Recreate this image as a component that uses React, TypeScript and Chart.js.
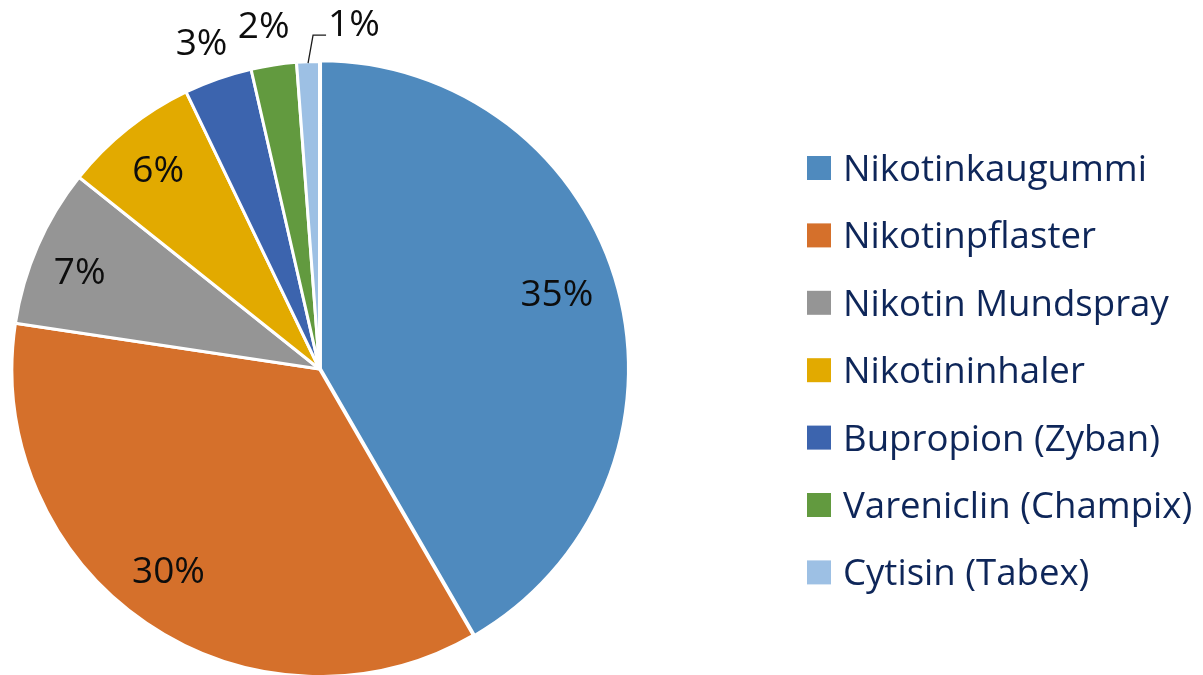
import React, { useEffect, useRef } from "react";
import { Chart, registerables } from "chart.js";

Chart.register(...registerables);

const categories = [
  "Nikotinkaugummi",
  "Nikotinpflaster",
  "Nikotin Mundspray",
  "Nikotininhaler",
  "Bupropion (Zyban)",
  "Vareniclin (Champix)",
  "Cytisin (Tabex)",
];
const shares = [35, 30, 7, 6, 3, 2, 1];
const percentLabels = ["35%", "30%", "7%", "6%", "3%", "2%", "1%"];
const sliceColors = [
  "#4F8ABE",
  "#D5702B",
  "#959595",
  "#E2AA00",
  "#3C64AE",
  "#629A3F",
  "#9DC0E4",
];

const FONT = "'Open Sans', 'Noto Sans', sans-serif";
const W = 1203;
const H = 675;

const sliceLabelPlugin = {
  id: "sliceLabels",
  afterDatasetsDraw(chart: any) {
    const ctx = chart.ctx as CanvasRenderingContext2D;
    const meta = chart.getDatasetMeta(0);
    const size = 37;
    const digitH = 0.714 * size;
    const nudges: Record<number, [number, number]> = {
      0: [-8, -10],
      1: [-8, -9],
      2: [-7, 3],
      3: [-3, -2],
      4: [-3, 1],
      5: [-4, 0],
    };
    ctx.save();
    ctx.font = `${size}px ${FONT}`;
    ctx.fillStyle = "#0D0D0D";
    ctx.textBaseline = "alphabetic";
    meta.data.forEach((arc: any, i: number) => {
      const p = arc.getProps(["x", "y", "startAngle", "endAngle", "outerRadius"], true);
      const mid = (p.startAngle + p.endAngle) / 2;
      const R = p.outerRadius - 1.5;
      const text = percentLabels[i];
      const [nx, ny] = nudges[i] || [0, 0];
      if (shares[i] >= 5) {
        const r = R * 0.83;
        ctx.textAlign = "center";
        ctx.fillText(text, p.x + Math.cos(mid) * r + nx, p.y + Math.sin(mid) * r + ny + digitH / 2);
      } else if (i < shares.length - 1) {
        const r = R + 42;
        ctx.textAlign = "center";
        ctx.fillText(text, p.x + Math.cos(mid) * r + nx, p.y + Math.sin(mid) * r + ny + digitH / 2);
      } else {
        // callout with leader line
        const ax = p.x + Math.cos(mid) * R;
        const ay = p.y + Math.sin(mid) * R;
        const ex = ax + 5;
        const ey = ay - 28;
        const tx = ex + 13;
        ctx.strokeStyle = "#1A1A1A";
        ctx.lineWidth = 1.3;
        ctx.beginPath();
        ctx.moveTo(ax, ay);
        ctx.lineTo(ex, ey);
        ctx.lineTo(tx, ey);
        ctx.stroke();
        ctx.textAlign = "left";
        ctx.fillText(text, tx + 2, ey - 12 + digitH / 2);
      }
    });
    ctx.restore();
  },
};

const sideLegendPlugin = {
  id: "sideLegend",
  afterDraw(chart: any) {
    const ctx = chart.ctx as CanvasRenderingContext2D;
    const size = 36.6;
    const capH = 0.714 * size;
    const boxX = 807;
    const box = 24;
    const textX = 843;
    const firstY = 168;
    const step = 67.4;
    const colors = chart.data.datasets[0].backgroundColor as string[];
    ctx.save();
    ctx.font = `${size}px ${FONT}`;
    ctx.textAlign = "left";
    ctx.textBaseline = "alphabetic";
    (chart.data.labels as string[]).forEach((label, i) => {
      const cy = firstY + step * i;
      ctx.fillStyle = colors[i];
      ctx.fillRect(boxX, cy - box / 2, box, box);
      ctx.fillStyle = "#0E2659";
      ctx.fillText(label, textX, cy + capH / 2);
    });
    ctx.restore();
  },
};

export default function App() {
  const canvasRef = useRef<HTMLCanvasElement | null>(null);

  useEffect(() => {
    const canvas = canvasRef.current;
    if (!canvas) return;
    const chart = new Chart(canvas, {
      type: "pie",
      data: {
        labels: categories,
        datasets: [
          {
            data: shares,
            backgroundColor: sliceColors,
            borderColor: "#FFFFFF",
            borderWidth: 3,
            offset: [4, 0, 0, 0, 0, 0, 0],
            clip: false,
          } as any,
        ],
      },
      options: {
        responsive: false,
        animation: false,
        devicePixelRatio: 1,
        radius: 307.5,
        layout: { padding: { left: 0, right: W - 639, top: 63, bottom: 0 } },
        plugins: {
          legend: { display: false },
          tooltip: { enabled: false },
        },
      } as any,
      plugins: [sliceLabelPlugin, sideLegendPlugin],
    });
    return () => chart.destroy();
  }, []);

  return (
    <div
      style={{
        position: "fixed",
        left: 0,
        top: 0,
        width: W,
        height: H,
        background: "#FFFFFF",
        overflow: "hidden",
      }}
    >
      <canvas ref={canvasRef} width={W} height={H} style={{ width: W, height: H, display: "block" }} />
    </div>
  );
}
